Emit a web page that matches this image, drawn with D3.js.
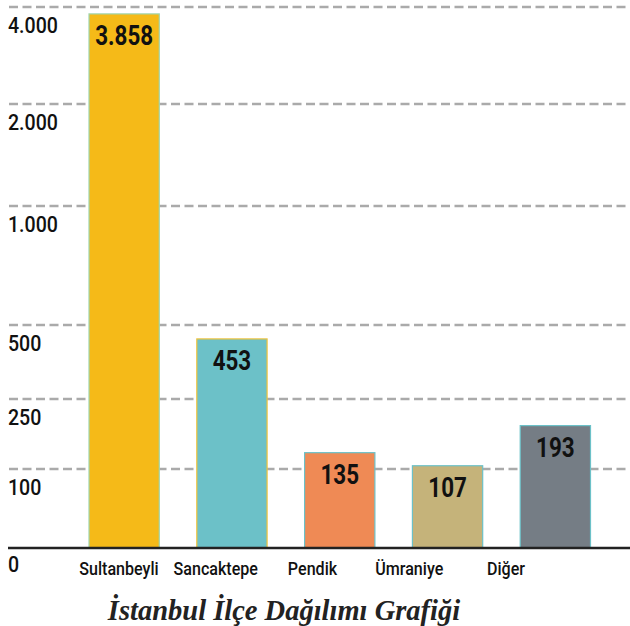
<!DOCTYPE html>
<html lang="tr">
<head>
  <meta charset="UTF-8">
  <title>İstanbul İlçe Dağılımı Grafiği</title>
  <script src="https://d3js.org/d3.v7.min.js"></script>
  <style>
    body { margin: 0; background: #fff; }
    svg { display: block; }
  </style>
</head>
<body>
  <div id="chart"></div>
  <script>
    // data
    const districts = ["Sultanbeyli", "Sancaktepe", "Pendik", "Ümraniye", "Diğer"]
    const counts = [3858, 453, 135, 107, 193]
    const fills = ["#F5BA18", "#6CC1C8", "#EF8A55", "#C5B37A", "#757D85"]
    const strokes = ["#9fd6ae", "#f0c23a", "#6cc1c8", "#6cc1c8", "#6cc1c8"]
    const tickValues = [0, 100, 250, 500, 1000, 2000, 4000]
    const title = "İstanbul İlçe Dağılımı Grafiği"

    const width = 630, height = 626
    // no condensed face installed, so Roboto is squeezed horizontally
    const sans = "Roboto, 'Noto Sans', sans-serif"

    const svg = d3.select("#chart").append("svg")
      .attr("width", width)
      .attr("height", height)

    // the axis is not linear: each tick band has its own height
    const y = d3.scaleLinear()
      .domain(tickValues)
      .range([548, 469, 399, 325, 206, 104, 7])

    const x = d3.scaleBand()
      .domain(districts)
      .range([89, 590.5])
      .paddingInner(0.348)
      .paddingOuter(0)

    // category labels sit on their own spacing, shifted left of the bars
    const xLabel = d3.scalePoint()
      .domain(districts)
      .range([119, 506])

    const fmt = d3.formatLocale({ decimal: ",", thousands: ".", grouping: [3], currency: ["", ""] }).format(",")

    const squeeze = (px, py, s) => `translate(${px},${py}) scale(${s},1)`

    // gridlines
    svg.append("g")
      .selectAll("line")
      .data(tickValues.filter(d => d > 0))
      .join("line")
      .attr("x1", 9)
      .attr("x2", width)
      .attr("y1", d => y(d))
      .attr("y2", d => y(d))
      .attr("stroke", "#aaaaaa")
      .attr("stroke-width", 2.5)
      .attr("stroke-dasharray", "9,4.5")

    // tick labels under each line
    svg.append("g")
      .selectAll("text")
      .data(tickValues)
      .join("text")
      .attr("transform", d => squeeze(8, y(d) + (d === 0 ? 24 : 26), 0.87))
      .style("font-family", sans)
      .style("font-weight", 500)
      .style("font-size", "22.5px")
      .style("fill", "#111")
      .text(d => fmt(d))

    const rows = districts.map((d, i) => ({ name: d, value: counts[i], fill: fills[i], stroke: strokes[i] }))

    // bars
    svg.append("g")
      .selectAll("rect")
      .data(rows)
      .join("rect")
      .attr("x", d => x(d.name))
      .attr("y", d => y(d.value))
      .attr("width", x.bandwidth())
      .attr("height", d => y(0) - y(d.value))
      .attr("fill", d => d.fill)
      .attr("stroke", d => d.stroke)
      .attr("stroke-width", 1.2)

    // value labels inside bars
    svg.append("g")
      .selectAll("text")
      .data(rows)
      .join("text")
      .attr("transform", d => squeeze(x(d.name) + x.bandwidth() / 2, y(d.value) + 31, 0.8))
      .attr("text-anchor", "middle")
      .style("font-family", sans)
      .style("font-weight", "bold")
      .style("font-size", "28px")
      .style("fill", "#111")
      .text(d => fmt(d.value))

    // baseline
    svg.append("line")
      .attr("x1", 8)
      .attr("x2", width)
      .attr("y1", y(0))
      .attr("y2", y(0))
      .attr("stroke", "#222")
      .attr("stroke-width", 2.5)

    // category labels
    svg.append("g")
      .selectAll("text")
      .data(districts)
      .join("text")
      .attr("transform", d => squeeze(xLabel(d), 575, 0.87))
      .attr("text-anchor", "middle")
      .style("font-family", sans)
      .style("font-weight", 500)
      .style("font-size", "18.5px")
      .style("fill", "#111")
      .text(d => d)

    svg.append("text")
      .attr("x", 284)
      .attr("y", 620)
      .attr("text-anchor", "middle")
      .style("font-family", "'Liberation Serif', 'DejaVu Serif', serif")
      .style("font-weight", "bold")
      .style("font-style", "italic")
      .style("font-size", "28.5px")
      .style("fill", "#222")
      .text(title)
  </script>
</body>
</html>
